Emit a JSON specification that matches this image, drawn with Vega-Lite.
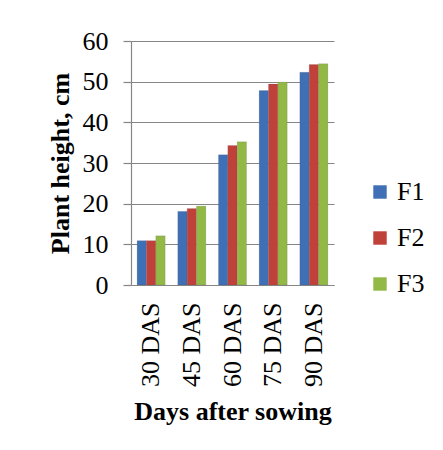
{
  "$schema": "https://vega.github.io/schema/vega-lite/v6.json",
  "autosize": "none",
  "width": 203,
  "height": 244,
  "padding": {"left": 131, "top": 41, "right": 109, "bottom": 165},
  "background": "white",
  "data": {
    "values": [
      {"das": "30 DAS", "series": "F1", "height": 10.9},
      {"das": "30 DAS", "series": "F2", "height": 10.9},
      {"das": "30 DAS", "series": "F3", "height": 12.1},
      {"das": "45 DAS", "series": "F1", "height": 18.1},
      {"das": "45 DAS", "series": "F2", "height": 18.8},
      {"das": "45 DAS", "series": "F3", "height": 19.4},
      {"das": "60 DAS", "series": "F1", "height": 32.0},
      {"das": "60 DAS", "series": "F2", "height": 34.3},
      {"das": "60 DAS", "series": "F3", "height": 35.2},
      {"das": "75 DAS", "series": "F1", "height": 47.8},
      {"das": "75 DAS", "series": "F2", "height": 49.4},
      {"das": "75 DAS", "series": "F3", "height": 49.9},
      {"das": "90 DAS", "series": "F1", "height": 52.3},
      {"das": "90 DAS", "series": "F2", "height": 54.2},
      {"das": "90 DAS", "series": "F3", "height": 54.4}
    ]
  },
  "mark": {"type": "bar", "stroke": "#555555", "strokeWidth": 0.3, "strokeOpacity": 0.5},
  "encoding": {
    "x": {
      "field": "das", "type": "nominal", "sort": null,
      "scale": {"paddingInner": 0.31, "paddingOuter": 0.15},
      "axis": {
        "title": "Days after sowing",
        "labelAngle": -90, "labelAlign": "right", "labelBaseline": "middle",
        "labelPadding": 17, "ticks": false,
        "domainColor": "#868686", "domainWidth": 1.2,
        "titlePadding": 12
      }
    },
    "xOffset": {"field": "series", "type": "nominal", "sort": ["F1", "F2", "F3"]},
    "y": {
      "field": "height", "type": "quantitative",
      "scale": {"domain": [0, 60], "nice": false},
      "axis": {
        "title": "Plant height, cm",
        "values": [0, 10, 20, 30, 40, 50, 60],
        "tickSize": 8, "tickColor": "#868686", "tickWidth": 1.2,
        "domainColor": "#868686", "domainWidth": 1.2,
        "grid": true, "gridColor": "#868686", "gridWidth": 1.2,
        "labelPadding": 15, "titlePadding": 9
      }
    },
    "color": {
      "field": "series", "type": "nominal",
      "scale": {"domain": ["F1", "F2", "F3"], "range": ["#3F6FB5", "#C0403A", "#92B846"]},
      "legend": {
        "title": null, "orient": "none", "legendX": 236, "legendY": 138,
        "symbolType": "square", "symbolSize": 180, "symbolStrokeWidth": 0,
        "rowPadding": 20, "labelOffset": 4
      }
    }
  },
  "config": {
    "view": {"stroke": null},
    "font": "Liberation Serif",
    "axis": {
      "labelFont": "Liberation Serif", "labelFontSize": 26, "labelColor": "#000000",
      "titleFont": "Liberation Serif", "titleFontSize": 26, "titleFontWeight": "bold", "titleColor": "#000000"
    },
    "legend": {"labelFont": "Liberation Serif", "labelFontSize": 26, "labelColor": "#000000"}
  }
}
